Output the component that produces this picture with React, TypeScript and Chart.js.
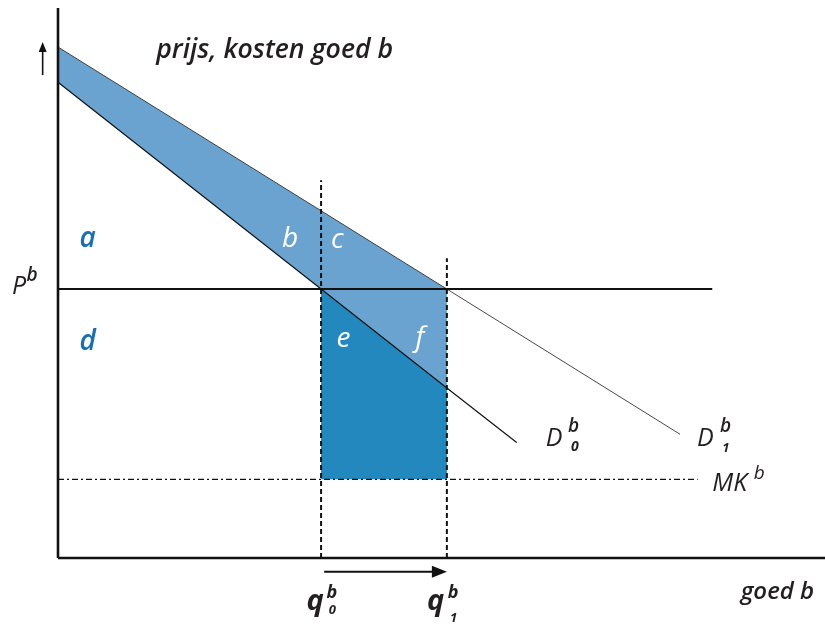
import { useEffect, useRef } from "react";
import { Chart, registerables } from "chart.js";

Chart.register(...registerables);

// Quantity / price grid (both axes run 0..100)
const X_MAX = 100;
const Y_MAX = 100;

// Quantities before and after the shift
const quantityOld = 34.3;
const quantityNew = 50.7;

// Market price and marginal cost
const priceLevel = 48.9;
const marginalCost = 14.3;

// Demand curves (quantity, price)
const demandOldQ = [0, 34.3, 50.7, 59.8];
const demandOldP = [86.5, 48.9, 30.9, 21.0];
const demandNewQ = [0, 50.7, 81.1];
const demandNewP = [92.9, 48.9, 22.5];

// Extent of the horizontal reference lines and the quantity guides
const priceLineEnd = 85.3;
const costLineEnd = 83.4;
const guideTopOld = 68.7;
const guideTopNew = 54.5;

const LIGHT = "#6aa3cf";
const DARK = "#2288bd";
const LABEL_BLUE = "#1a6fb0";
const INK = "#231f20";
const FAMILY = '"Open Sans", "Noto Sans", sans-serif';

type Pt = { x: number; y: number };
const pts = (qs: number[], ps: number[]): Pt[] => qs.map((q, i) => ({ x: q, y: ps[i] }));

type Mark = {
  text: string;
  x: number;
  y: number;
  size: number;
  weight?: number;
  color?: string;
  fit?: number;
};

// Text placed in grid units (left edge, baseline)
const marks: Mark[] = [
  { text: "prijs, kosten goed b", x: 12.8, y: 90.9, size: 27, weight: 600, color: INK, fit: 237 },
  { text: "P", x: -6.0, y: 48.0, size: 25, weight: 500, color: INK },
  { text: "b", x: -4.1, y: 50.3, size: 19, weight: 600, color: INK },
  { text: "a", x: 2.8, y: 56.5, size: 28, weight: 600, color: LABEL_BLUE },
  { text: "d", x: 2.8, y: 37.8, size: 28, weight: 600, color: LABEL_BLUE },
  { text: "b", x: 29.2, y: 56.5, size: 28, weight: 500, color: "#ffffff" },
  { text: "c", x: 35.6, y: 56.4, size: 28, weight: 500, color: "#ffffff" },
  { text: "e", x: 36.3, y: 38.4, size: 28, weight: 500, color: "#ffffff" },
  { text: "f", x: 46.6, y: 38.5, size: 28, weight: 500, color: "#ffffff" },
  { text: "D", x: 63.6, y: 20.3, size: 25, weight: 500, color: INK },
  { text: "b", x: 66.5, y: 22.9, size: 19, weight: 600, color: INK },
  { text: "0", x: 66.9, y: 19.5, size: 14, weight: 700, color: INK },
  { text: "D", x: 83.3, y: 20.3, size: 25, weight: 500, color: INK },
  { text: "b", x: 86.3, y: 22.9, size: 19, weight: 600, color: INK },
  { text: "1", x: 86.6, y: 19.3, size: 13, weight: 700, color: INK },
  { text: "MK", x: 85.3, y: 12.1, size: 25, weight: 500, color: INK },
  { text: "b", x: 90.7, y: 14.3, size: 19, weight: 500, color: INK },
  { text: "q", x: 32.4, y: -9.4, size: 29, weight: 700, color: INK },
  { text: "b", x: 35.0, y: -7.2, size: 18, weight: 700, color: INK },
  { text: "0", x: 35.3, y: -10.2, size: 13, weight: 700, color: INK },
  { text: "q", x: 48.1, y: -9.4, size: 29, weight: 700, color: INK },
  { text: "b", x: 50.8, y: -7.2, size: 18, weight: 700, color: INK },
  { text: "1", x: 51.1, y: -11.6, size: 13, weight: 700, color: INK },
  { text: "goed b", x: 89.0, y: -7.5, size: 24, weight: 600, color: INK },
];

// Direction arrows (grid units)
const priceArrow = { x: -2.0, from: 87.8, to: 93.8 };
const quantityArrow = { y: -2.5, from: 34.7, to: quantityNew };

const annotate = {
  id: "annotate",
  afterDatasetsDraw(chart: Chart) {
    const { ctx } = chart;
    const xs = chart.scales.x;
    const ys = chart.scales.y;
    const px = (v: number) => xs.getPixelForValue(v);
    const py = (v: number) => ys.getPixelForValue(v);
    ctx.save();

    // arrows
    ctx.strokeStyle = "#111";
    ctx.fillStyle = "#111";
    ctx.lineWidth = 1.6;
    {
      const x = px(priceArrow.x);
      const y0 = py(priceArrow.from);
      const y1 = py(priceArrow.to);
      ctx.beginPath();
      ctx.moveTo(x, y0);
      ctx.lineTo(x, y1 + 8);
      ctx.stroke();
      ctx.beginPath();
      ctx.moveTo(x, y1);
      ctx.lineTo(x - 4, y1 + 10);
      ctx.lineTo(x + 4, y1 + 10);
      ctx.closePath();
      ctx.fill();
    }
    {
      const y = py(quantityArrow.y);
      const x0 = px(quantityArrow.from);
      const x1 = px(quantityArrow.to);
      ctx.lineWidth = 2;
      ctx.beginPath();
      ctx.moveTo(x0, y);
      ctx.lineTo(x1 - 12, y);
      ctx.stroke();
      ctx.beginPath();
      ctx.moveTo(x1, y);
      ctx.lineTo(x1 - 15, y - 6);
      ctx.lineTo(x1 - 15, y + 6);
      ctx.closePath();
      ctx.fill();
    }

    // text
    ctx.textBaseline = "alphabetic";
    ctx.textAlign = "left";
    for (const m of marks) {
      ctx.font = `italic ${m.weight ?? 400} ${m.size}px ${FAMILY}`;
      ctx.fillStyle = m.color ?? INK;
      if (m.fit) ctx.fillText(m.text, px(m.x), py(m.y), m.fit);
      else ctx.fillText(m.text, px(m.x), py(m.y));
    }
    ctx.restore();
  },
};

export default function App() {
  const ref = useRef<HTMLCanvasElement | null>(null);

  useEffect(() => {
    if (!ref.current) return;
    const plain = { pointRadius: 0, fill: false, clip: false as const, tension: 0 };
    const chart = new Chart(ref.current, {
      type: "line",
      data: {
        datasets: [
          // axes
          { ...plain, data: [{ x: 0, y: 0 }, { x: 0, y: Y_MAX }], borderColor: "#111", borderWidth: 2.6, order: 1 },
          { ...plain, data: [{ x: 0, y: 0 }, { x: X_MAX, y: 0 }], borderColor: "#111", borderWidth: 2.6, order: 1 },
          // quantity guides
          {
            ...plain,
            data: [{ x: quantityOld, y: 0 }, { x: quantityOld, y: guideTopOld }],
            borderColor: "#111",
            borderWidth: 2,
            borderDash: [5, 3],
            order: 2,
          },
          {
            ...plain,
            data: [{ x: quantityNew, y: 0 }, { x: quantityNew, y: guideTopNew }],
            borderColor: "#111",
            borderWidth: 2,
            borderDash: [5, 3],
            order: 2,
          },
          // price and marginal cost
          {
            ...plain,
            data: [{ x: 0, y: priceLevel }, { x: priceLineEnd, y: priceLevel }],
            borderColor: "#111",
            borderWidth: 2,
            order: 3,
          },
          {
            ...plain,
            data: [{ x: 0, y: marginalCost }, { x: costLineEnd, y: marginalCost }],
            borderColor: "#111",
            borderWidth: 1.4,
            borderDash: [6, 3, 2, 3],
            order: 3,
          },
          // demand curves
          { ...plain, data: pts(demandOldQ, demandOldP), borderColor: "#111", borderWidth: 1.2, order: 4 },
          { ...plain, data: pts(demandNewQ, demandNewP), borderColor: "#333", borderWidth: 0.9, order: 4 },
          // shaded areas
          {
            ...plain,
            data: [
              { x: quantityOld, y: priceLevel },
              { x: quantityNew, y: demandOldP[2] },
              { x: quantityNew, y: marginalCost },
              { x: quantityOld, y: marginalCost },
            ],
            fill: "shape",
            backgroundColor: DARK,
            borderColor: "transparent",
            borderWidth: 0,
            order: 8,
          },
          {
            ...plain,
            data: [
              { x: demandNewQ[0], y: demandNewP[0] },
              { x: demandNewQ[1], y: demandNewP[1] },
              { x: demandOldQ[2], y: demandOldP[2] },
              { x: demandOldQ[1], y: demandOldP[1] },
              { x: demandOldQ[0], y: demandOldP[0] },
            ],
            fill: "shape",
            backgroundColor: LIGHT,
            borderColor: "transparent",
            borderWidth: 0,
            order: 9,
          },
        ],
      },
      options: {
        animation: false,
        responsive: false,
        devicePixelRatio: 1,
        layout: { padding: { left: 58, top: 8, right: 0, bottom: 68 } },
        scales: {
          x: { type: "linear", min: 0, max: X_MAX, display: false },
          y: { type: "linear", min: 0, max: Y_MAX, display: false },
        },
        plugins: { legend: { display: false }, tooltip: { enabled: false } },
        events: [],
      },
      plugins: [annotate],
    });
    return () => chart.destroy();
  }, []);

  return (
    <div style={{ position: "fixed", left: 0, top: 0, width: 825, height: 626, background: "#fff" }}>
      <canvas ref={ref} width={825} height={626} />
    </div>
  );
}
